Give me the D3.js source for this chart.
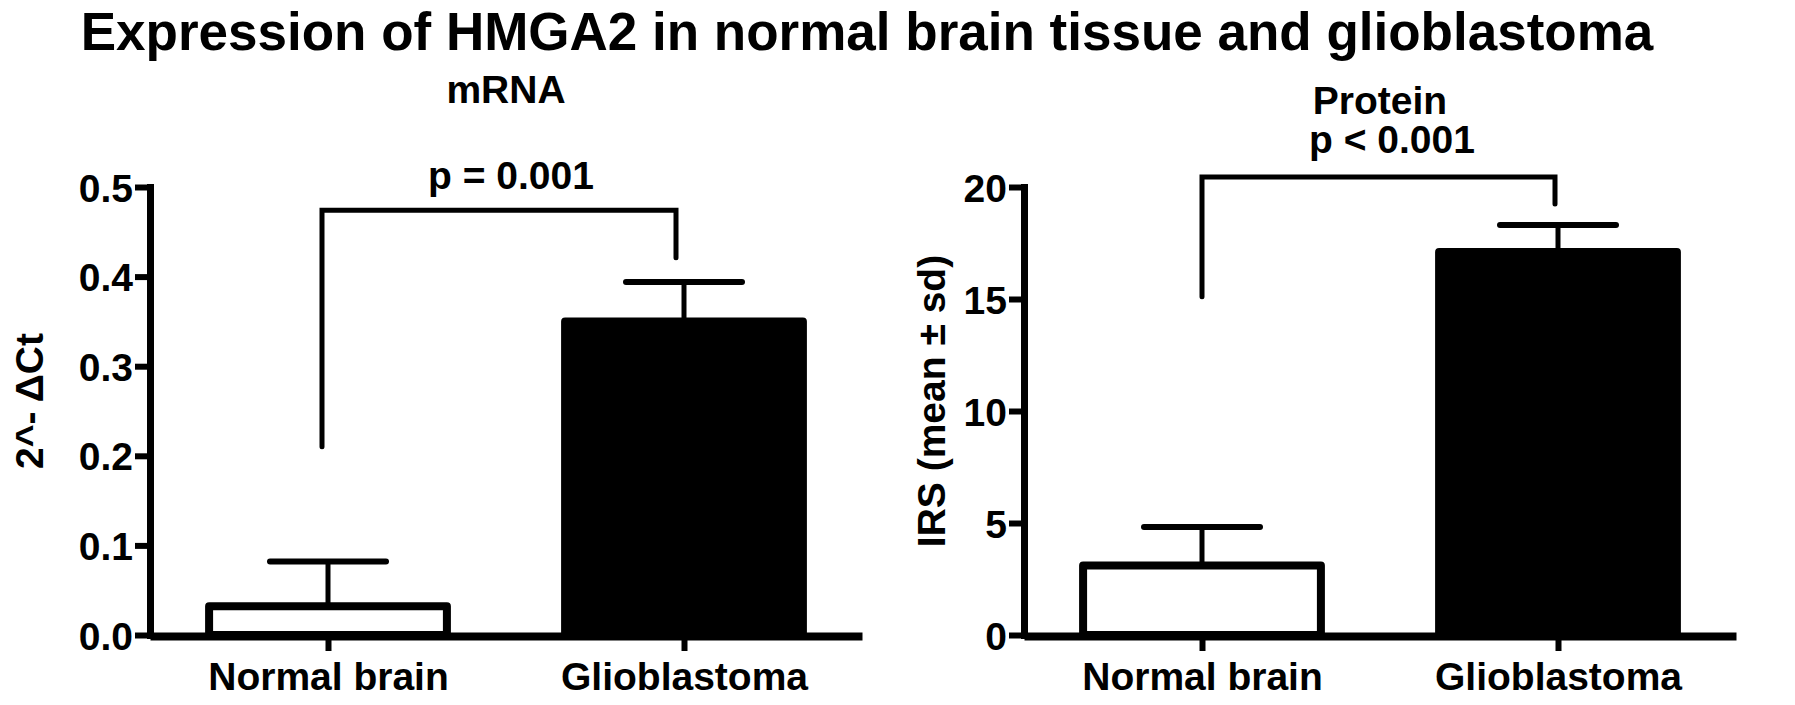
<!DOCTYPE html>
<html>
<head>
<meta charset="utf-8">
<script src="https://cdn.jsdelivr.net/npm/d3@7"></script>
<style>
  body { margin: 0; background: #fff; }
  text { font-family: "Liberation Sans", Arial, Helvetica, sans-serif; font-weight: bold; fill: #000; }
</style>
</head>
<body>
<script>
// data
var categories = ["Normal brain", "Glioblastoma"];
var mrnaMean = [0.032, 0.350];
var mrnaSD = [0.050, 0.044];
var proteinMean = [3.1, 17.1];
var proteinSD = [1.72, 1.2];
var mrnaTicks = [0, 0.1, 0.2, 0.3, 0.4, 0.5];
var proteinTicks = [0, 5, 10, 15, 20];
// bracket: left leg end, bar level, right leg end (data units)
var mrnaBracket = [0.21, 0.474, 0.421];
var proteinBracket = [15.1, 20.45, 19.24];

var W = 1795, H = 705,
    yTop = 187, yBottom = 635,
    pw = 712, fs = 39;

var svg = d3.select("body").append("svg")
    .attr("width", W)
    .attr("height", H);

svg.append("rect").attr("width", W).attr("height", H).attr("fill", "#fff");

svg.append("text")
    .attr("x", 867).attr("y", 50)
    .attr("text-anchor", "middle")
    .style("font-size", "53px")
    .text("Expression of HMGA2 in normal brain tissue and glioblastoma");

var panels = [
  { left: 150, mean: mrnaMean, sd: mrnaSD, ticks: mrnaTicks, fmt: d3.format(".1f"),
    max: 0.5, bracket: mrnaBracket, legShift: [-6, -8],
    ylabel: "2^- \u0394Ct", ylabelX: -107,
    heads: [{ t: "mRNA", y: 103 }, { t: "p = 0.001", y: 189, dx: 5 }] },
  { left: 1024, mean: proteinMean, sd: proteinSD, ticks: proteinTicks, fmt: d3.format("d"),
    max: 20, bracket: proteinBracket, legShift: [0, -3],
    ylabel: "IRS (mean \u00b1 sd)", ylabelX: -79,
    heads: [{ t: "Protein", y: 114 }, { t: "p < 0.001", y: 153, dx: 12 }] }
];

panels.forEach(function(p) {
  var g = svg.append("g").attr("transform", "translate(" + p.left + ",0)");

  var y = d3.scaleLinear().domain([0, p.max]).range([yBottom, yTop]);
  var x = d3.scalePoint().domain(categories).range([0, pw]).padding(0.5);
  var bw = x.step() * 0.668;

  // y axis
  var ya = g.append("g")
      .call(d3.axisLeft(y).tickValues(p.ticks).tickFormat(p.fmt)
            .tickSize(15).tickSizeOuter(0).tickPadding(2));
  ya.select(".domain").attr("stroke", "#000").attr("stroke-width", 7).attr("stroke-linecap", "square");
  ya.selectAll(".tick line").attr("stroke", "#000").attr("stroke-width", 6);
  ya.selectAll(".tick text").attr("fill", "#000").style("font-size", fs + "px")
      .attr("font-family", null).attr("dy", "0.36em");

  // bars
  g.selectAll("rect.bar")
      .data(categories)
    .enter().append("rect")
      .attr("class", "bar")
      .attr("x", function(d) { return x(d) - bw / 2; })
      .attr("y", function(d, i) { return y(p.mean[i]); })
      .attr("width", bw)
      .attr("height", function(d, i) { return yBottom - y(p.mean[i]); })
      .attr("fill", function(d, i) { return i == 0 ? "#fff" : "#000"; })
      .attr("stroke", "#000")
      .attr("stroke-width", 8)
      .attr("stroke-linejoin", "round");

  // error bars
  g.selectAll("line.err")
      .data(categories)
    .enter().append("line")
      .attr("x1", function(d) { return x(d); })
      .attr("x2", function(d) { return x(d); })
      .attr("y1", function(d, i) { return y(p.mean[i]); })
      .attr("y2", function(d, i) { return y(p.mean[i] + p.sd[i]); })
      .attr("stroke", "#000").attr("stroke-width", 5);

  g.selectAll("line.cap")
      .data(categories)
    .enter().append("line")
      .attr("x1", function(d) { return x(d) - 58; })
      .attr("x2", function(d) { return x(d) + 58; })
      .attr("y1", function(d, i) { return y(p.mean[i] + p.sd[i]); })
      .attr("y2", function(d, i) { return y(p.mean[i] + p.sd[i]); })
      .attr("stroke", "#000").attr("stroke-width", 6).attr("stroke-linecap", "round");

  // x axis (drawn after bars so it sits on top)
  var xa = g.append("g")
      .attr("transform", "translate(0," + (yBottom + 1) + ")")
      .call(d3.axisBottom(x).tickSize(15).tickSizeOuter(0).tickPadding(0));
  xa.select(".domain").attr("stroke", "#000").attr("stroke-width", 8);
  xa.selectAll(".tick line").attr("stroke", "#000").attr("stroke-width", 6);
  xa.selectAll(".tick text").attr("fill", "#000").style("font-size", fs + "px")
      .attr("font-family", null).attr("y", 54).attr("dy", 0);

  // significance bracket
  var bx0 = x(categories[0]) + p.legShift[0],
      bx1 = x(categories[1]) + p.legShift[1];
  g.append("path")
      .attr("d", "M" + bx0 + "," + y(p.bracket[0]) +
                 "V" + y(p.bracket[1]) +
                 "H" + bx1 +
                 "V" + y(p.bracket[2]))
      .attr("fill", "none")
      .attr("stroke", "#000")
      .attr("stroke-width", 5)
      .attr("stroke-linecap", "round")
      .attr("stroke-linejoin", "miter");

  // headings
  p.heads.forEach(function(h) {
    g.append("text")
        .attr("x", pw / 2 + (h.dx || 0))
        .attr("y", h.y)
        .attr("text-anchor", "middle")
        .style("font-size", fs + "px")
        .text(h.t);
  });

  // y label
  g.append("text")
      .attr("transform", "translate(" + p.ylabelX + "," + 401 + ") rotate(-90)")
      .attr("text-anchor", "middle")
      .style("font-size", fs + "px")
      .text(p.ylabel);
});
</script>
</body>
</html>
